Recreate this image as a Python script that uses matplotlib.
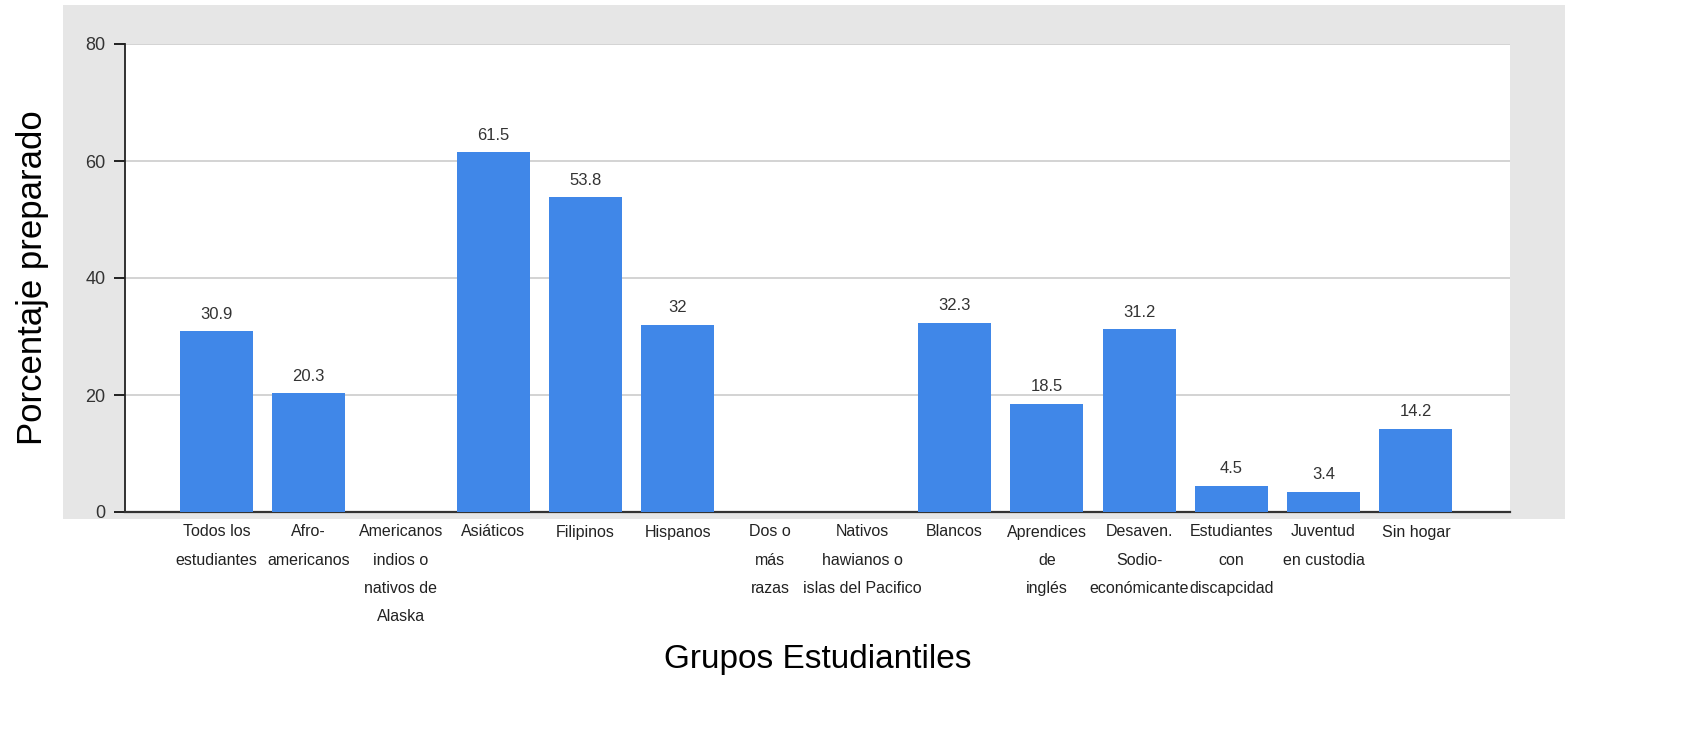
import numpy as np
import matplotlib
matplotlib.use("Agg")
import matplotlib.pyplot as plt
from matplotlib.patches import Rectangle

plt.rcParams['font.family'] = ['Liberation Sans', 'DejaVu Sans']

# data (None = no value shown)
grupos = ["Todos los\nestudiantes", "Afro-\namericanos", "Americanos\nindios o\nnativos de\nAlaska",
          "Asiáticos", "Filipinos", "Hispanos", "Dos o\nmás\nrazas", "Nativos\nhawianos o\nislas del Pacifico",
          "Blancos", "Aprendices\nde\ninglés", "Desaven.\nSodio-\neconómicante", "Estudiantes\ncon\ndiscapcidad",
          "Juventud\nen custodia", "Sin hogar"]
porcentaje = [30.9, 20.3, None, 61.5, 53.8, 32, None, None, 32.3, 18.5, 31.2, 4.5, 3.4, 14.2]
etiquetas = ["30.9", "20.3", "", "61.5", "53.8", "32", "", "", "32.3", "18.5", "31.2", "4.5", "3.4", "14.2"]
y_ticks = [0, 20, 40, 60, 80]

fig = plt.figure(figsize=(16.96, 7.36), dpi=100)
fig.patch.set_facecolor("white")

# gray chart panel behind the plot
fig.patches.append(Rectangle((63 / 1696, 1 - 519 / 736), (1565 - 63) / 1696, (519 - 5) / 736,
                             transform=fig.transFigure, facecolor="#e6e6e6", edgecolor="none", zorder=-1))

ax = fig.add_axes([125 / 1696, 1 - 512 / 736, (1510 - 125) / 1696, (512 - 44) / 736])
ax.set_zorder(2)
ax.set_facecolor("white")

x = np.arange(len(grupos))
vals = np.array([np.nan if v is None else v for v in porcentaje], dtype=float)
ax.bar(x, np.nan_to_num(vals), width=0.79, color="#4087e8", zorder=3)

for xi, v, lab in zip(x, vals, etiquetas):
    if not np.isnan(v):
        ax.annotate(lab, (xi, v), xytext=(0, 7), textcoords="offset points",
                    ha="center", va="bottom", fontsize=12, color="#333333")

ax.set_xlim(-0.99, len(grupos) - 1 + 1.02)
ax.set_ylim(0, 80)
ax.set_yticks(y_ticks)
ax.yaxis.grid(True, color="#cccccc", linewidth=1.2, zorder=0)
ax.set_axisbelow(True)

ax.set_xticks(x)
ax.set_xticklabels(grupos, fontsize=11.5, color="#222222", linespacing=2.1, va="top")
ax.tick_params(axis="x", length=0, pad=9)
ax.tick_params(axis="y", length=8, width=1.2, labelsize=13, labelcolor="#333333", pad=6)

for s in ["top", "right"]:
    ax.spines[s].set_visible(False)
ax.spines["left"].set_linewidth(1.3)
ax.spines["bottom"].set_linewidth(1.6)
ax.spines["left"].set_color("#222222")
ax.spines["bottom"].set_color("#333333")

ax.set_ylabel("Porcentaje preparado", fontsize=25, labelpad=26)
ax.set_xlabel("Grupos Estudiantiles", fontsize=24, labelpad=14)

fig.savefig("out.png", dpi=100)
